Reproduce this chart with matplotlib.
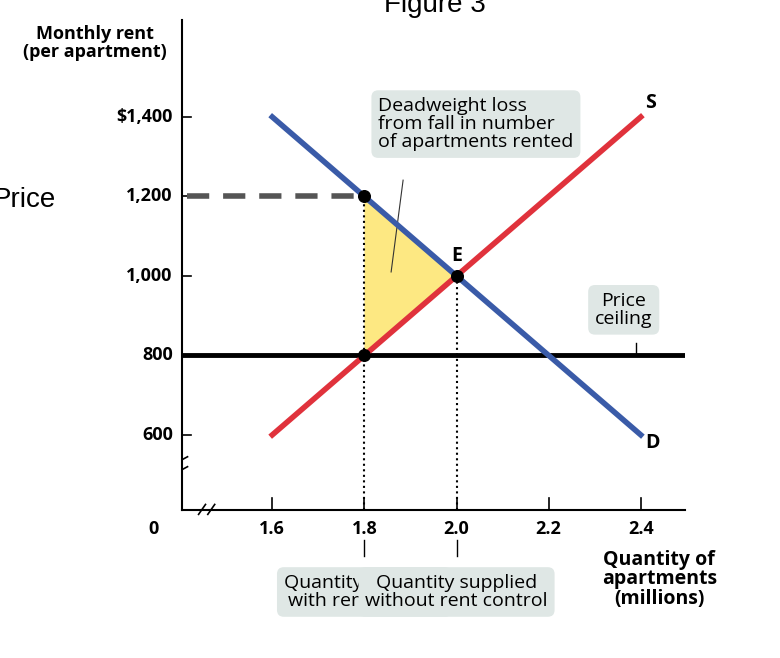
import matplotlib
matplotlib.use("Agg")
import matplotlib.pyplot as plt
from matplotlib.patches import Polygon

qty_ticks = [1.6, 1.8, 2.0, 2.2, 2.4]
rent_ticks = [600, 800, 1000, 1200, 1400]
rent_labels = ["600", "800", "1,000", "1,200", "$1,400"]
demand_q = [1.6, 2.4]; demand_p = [1400, 600]
supply_q = [1.6, 2.4]; supply_p = [600, 1400]
ceiling = 800
eq_q, eq_p = 2.0, 1000
q_rc, p_rc = 1.8, 1200

plt.rcParams['font.family'] = ['Liberation Sans Narrow', 'Open Sans', 'DejaVu Sans']
fig = plt.figure(figsize=(7.8, 6.58), dpi=100)
ax = fig.add_axes([182/780, 148/658, 503/780, 490/658])
ax.set_xlim(1.404, 2.496); ax.set_ylim(411, 1644)
ax.axis('off')
X0, Y0 = 1.404, 411
ax.plot([X0, X0], [Y0, 1644], color='black', lw=1.5, clip_on=False)
ax.plot([X0, 2.496], [Y0, Y0], color='black', lw=1.5, clip_on=False)
ax.plot([X0-0.012, X0+0.012], [505, 520], color='black', lw=1.2)
ax.plot([X0-0.012, X0+0.012], [530, 545], color='black', lw=1.2)
ax.plot([1.44, 1.455], [400, 425], color='black', lw=1.2, clip_on=False)
ax.plot([1.46, 1.475], [400, 425], color='black', lw=1.2, clip_on=False)
fs = 13
for q in qty_ticks:
    ax.plot([q, q], [Y0, Y0+30], color='black', lw=1.2)
    ax.text(q, Y0-25, f"{q:.1f}", ha='center', va='top', fontsize=fs, fontweight='bold')
for p, l in zip(rent_ticks, rent_labels):
    ax.plot([X0, X0+0.02], [p, p], color='black', lw=1.2)
    ax.text(X0-0.02, p, l, ha='right', va='center', fontsize=fs, fontweight='bold')
ax.text(X0-0.05, Y0-25, "0", ha='right', va='top', fontsize=fs, fontweight='bold')
ax.text(1.215, 1631, "Monthly rent\n(per apartment)", ha='center', va='top', fontsize=fs,
        fontweight='bold', linespacing=1.0, clip_on=False)
ax.text(2.44, 310, "Quantity of\napartments\n(millions)", ha='center', va='top', fontsize=fs+1,
        fontweight='bold', linespacing=0.95, clip_on=False)

ax.add_patch(Polygon([[q_rc, p_rc], [q_rc, ceiling], [eq_q, eq_p]], closed=True,
                     facecolor='#fde882', edgecolor='none', zorder=1))
ax.plot([X0+0.01, q_rc], [p_rc, p_rc], ls=(0, (4, 2.5)), color='#555555', lw=4)
ax.plot([q_rc, q_rc], [Y0, p_rc], ls=':', color='black', lw=1.5)
ax.plot([eq_q, eq_q], [Y0, eq_p], ls=':', color='black', lw=1.5)
ax.axhline(ceiling, color='black', lw=3.5, zorder=2)
ax.plot(demand_q, demand_p, color='#3a5ba8', lw=4, zorder=3)
ax.plot(supply_q, supply_p, color='#e0323c', lw=4, zorder=3)
ax.scatter([q_rc, q_rc, eq_q], [p_rc, ceiling, eq_p], s=70, color='black', zorder=5)
ax.text(eq_q, eq_p+25, "E", ha='center', va='bottom', fontsize=fs+1, fontweight='bold')
ax.text(2.41, 1410, "S", ha='left', va='bottom', fontsize=fs+1, fontweight='bold')
ax.text(2.41, 580, "D", ha='left', va='center', fontsize=fs+1, fontweight='bold')

box = dict(boxstyle='round,pad=0.35', facecolor='#dfe7e5', edgecolor='none')
tf = 14
ax.text(1.83, 1450, "Deadweight loss\nfrom fall in number\nof apartments rented", ha='left', va='top',
        fontsize=tf, bbox=box, linespacing=1.0)
ax.plot([1.884, 1.858], [1241, 1010], color='#333333', lw=0.8)
ax.text(2.363, 960, "Price\nceiling", ha='center', va='top', fontsize=tf, bbox=box, linespacing=1.0)
ax.plot([2.39, 2.39], [800, 830], color='black', lw=1)
ax.plot([1.8, 1.8], [335, 295], color='black', lw=1, clip_on=False)
ax.plot([2.0, 2.0], [335, 295], color='black', lw=1, clip_on=False)
ax.text(1.8, 250, "Quantity supplied\nwith rent control", ha='center', va='top', fontsize=tf,
        bbox=box, linespacing=1.0, clip_on=False)
ax.text(2.0, 250, "Quantity supplied\nwithout rent control", ha='center', va='top', fontsize=tf,
        bbox=box, linespacing=1.0, clip_on=False)

fig.text(435/780, 1.012, "Figure 3", ha='center', va='top', fontsize=20, family='Liberation Sans')
fig.text(56/780, 1 - 200/658, "Price", ha='right', va='center', fontsize=20, family='Liberation Sans')
fig.savefig("out.png", dpi=100)
